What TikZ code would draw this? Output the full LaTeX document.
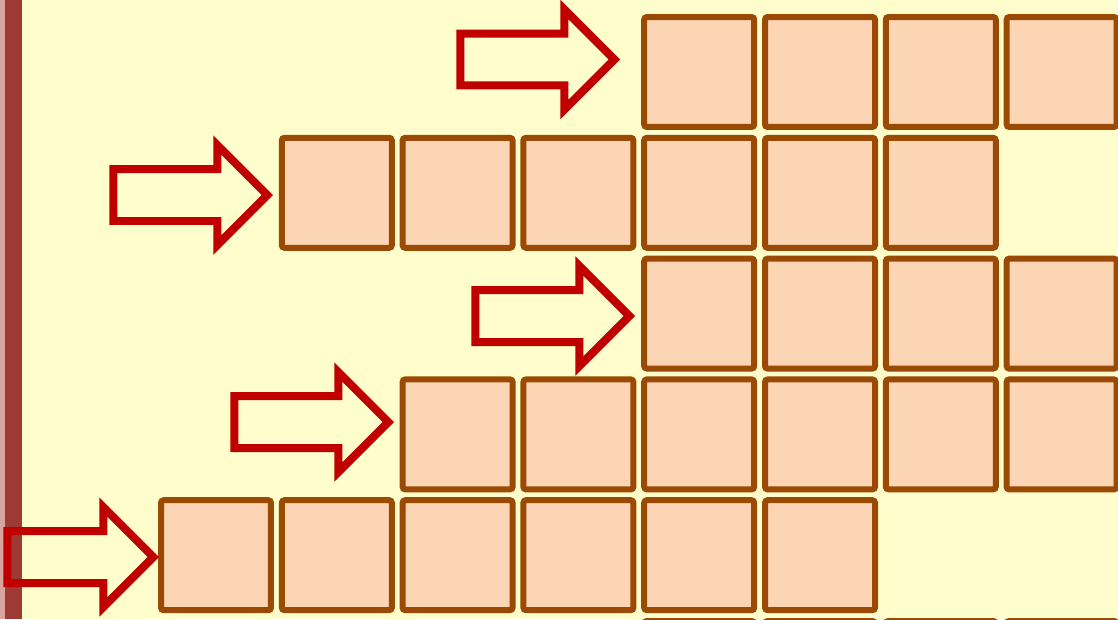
\documentclass[tikz,border=0pt]{standalone}
\usepackage{tikz}
\usetikzlibrary{shapes.arrows}

\definecolor{pagebg}{HTML}{FFFDCB}
\definecolor{cellfill}{HTML}{FCD5B4}
\definecolor{celledge}{HTML}{9A4A04}
\definecolor{arrowred}{HTML}{C00000}
\definecolor{spine}{HTML}{9C3A33}
\definecolor{spinelight}{HTML}{D8A49C}

\begin{document}
\begin{tikzpicture}[
  x=0.02cm, y=-0.02cm,
  cellbox/.style={draw=celledge, fill=cellfill, line width=0.12cm, rounded corners=1.5pt, minimum size=2.2cm, inner sep=0pt},
  shiftarrow/.style={single arrow, draw=arrowred, line width=0.16cm, inner xsep=0pt, inner ysep=0.44cm,
    single arrow head extend=0.48cm, single arrow tip angle=90, minimum height=3.08cm, minimum width=0pt, anchor=tip}
]
\useasboundingbox (0,0) rectangle (1118,619);
\fill[pagebg] (0,0) rectangle (1118,619);
\fill[spinelight] (0,0) rectangle (5,619);
\fill[spine] (5,0) rectangle (22,619);

% rows of cells
\foreach \c in {5,...,8} \node[cellbox] (r1c\c) at ({216+120.8*(\c-1)},72) {};
\foreach \c in {2,...,7} \node[cellbox] (r2c\c) at ({216+120.8*(\c-1)},192.8) {};
\foreach \c in {5,...,8} \node[cellbox] (r3c\c) at ({216+120.8*(\c-1)},313.6) {};
\foreach \c in {3,...,8} \node[cellbox] (r4c\c) at ({216+120.8*(\c-1)},434.4) {};
\foreach \c in {1,...,6} \node[cellbox] (r5c\c) at ({216+120.8*(\c-1)},555.2) {};
\foreach \c in {5,...,8} \node[cellbox] (r6c\c) at ({216+120.8*(\c-1)},676) {};

% shift arrows
\node[shiftarrow] (arrA) at (620,59.5) {};
\node[shiftarrow] (arrB) at (273,195) {};
\node[shiftarrow] (arrC) at (635,316) {};
\node[shiftarrow] (arrD) at (394,422) {};
\node[shiftarrow, minimum height=2.92cm] (arrE) at (159,557) {};
\end{tikzpicture}
\end{document}
